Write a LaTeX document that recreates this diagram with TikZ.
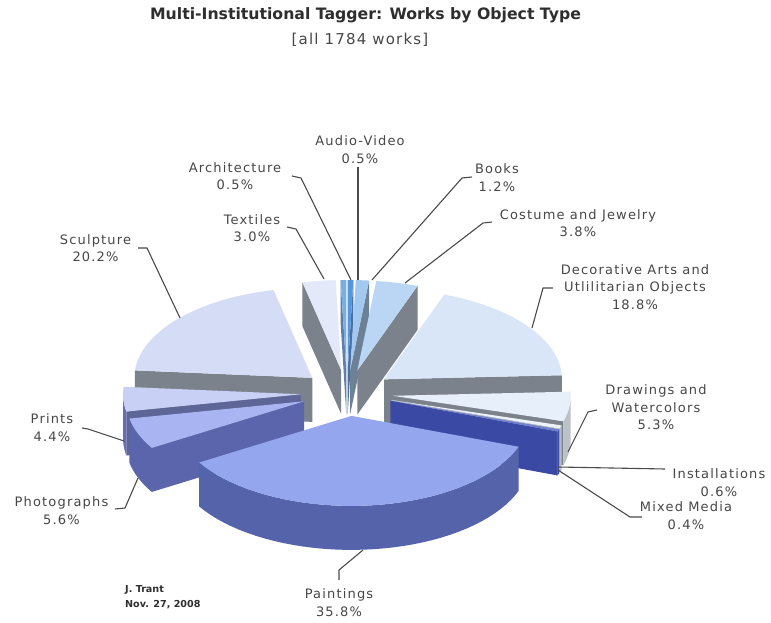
\documentclass[tikz,border=0pt]{standalone}
\usepackage{fontspec}
\setmainfont{DejaVu Sans}
\newfontfamily\labfont[LetterSpace=9]{DejaVu Sans}
\newfontfamily\subfont[LetterSpace=8]{DejaVu Sans}
\definecolor{txt}{HTML}{474747}
\definecolor{ttl}{HTML}{2E2E2E}
\definecolor{lead}{HTML}{4A4A4A}
\definecolor{cut}{HTML}{7C828B}
\definecolor{avTop}{HTML}{5497DC}
\definecolor{avCut}{HTML}{4C6F9E}
\definecolor{arTop}{HTML}{78AEE6}
\definecolor{arCut}{HTML}{5F7FA8}
\definecolor{bkTop}{HTML}{A3C9F0}
\definecolor{bkCut}{HTML}{6C8196}
\definecolor{csTop}{HTML}{BAD6F4}
\definecolor{deTop}{HTML}{D8E6F8}
\definecolor{dwTop}{HTML}{E7EFFA}
\definecolor{dwWall}{HTML}{BCC1C7}
\definecolor{inTop}{HTML}{EEF2FA}
\definecolor{inCut}{HTML}{B5BAC4}
\definecolor{mmTop}{HTML}{7080CC}
\definecolor{mmCut}{HTML}{3A49A3}
\definecolor{paTop}{HTML}{94A6EE}
\definecolor{paWall}{HTML}{5563AA}
\definecolor{phTop}{HTML}{A8B5F2}
\definecolor{phWall}{HTML}{5A65AB}
\definecolor{prTop}{HTML}{C8D0F5}
\definecolor{prCut}{HTML}{5E6597}
\definecolor{prWall}{HTML}{646EB4}
\definecolor{scTop}{HTML}{D5DCF6}
\definecolor{txTop}{HTML}{E3E9F8}
\newcommand\setapex[2]{%
  \pgfmathsetmacro\mm{(#1+#2)/2}%
  \pgfmathsetmacro\ax{347+46*sin(\mm)}%
  \pgfmathsetmacro\ay{393-23*cos(\mm)}%
}
\newcommand\topface[3]{%
  \fill[#3] (\ax,\ay) -- plot[domain=#1:#2,samples=40,variable=\t] ({\ax+178*sin(\t)},{\ay-90*cos(\t)}) -- cycle;}
\newcommand\cutface[2]{%
  \fill[#2] (\ax,\ay) -- ({\ax+178*sin(#1)},{\ay-90*cos(#1)}) -- ({\ax+178*sin(#1)},{\ay-90*cos(#1)+44}) -- (\ax,{\ay+44}) -- cycle;}
\newcommand\wallface[3]{%
  \fill[#3] plot[domain=#1:#2,samples=40,variable=\t] ({\ax+178*sin(\t)},{\ay-90*cos(\t)}) -- plot[domain=#2:#1,samples=40,variable=\t] ({\ax+178*sin(\t)},{\ay-90*cos(\t)+44}) -- cycle;}
\begin{document}
\begin{tikzpicture}[x=1pt,y=-1pt,
  lab/.style={font=\labfont\fontsize{13}{17.5}\selectfont, text=txt, align=center, inner sep=0pt},
  leader/.style={draw=lead, line width=1.1pt}]
\useasboundingbox[fill=white] (0,0) rectangle (771,623);
% title
\node[font=\bfseries\fontsize{15.7}{18}\selectfont, text=ttl, inner sep=0pt] (title) at (365.5,15.5) {Multi-Institutional Tagger: Works by Object Type};
\node[font=\subfont\fontsize{15}{18}\selectfont, text=txt, inner sep=0pt] (subtitle) at (360,39.5) {[all 1784 works]};
% ---- slices (back to front) ----
% Audio-Video
\setapex{0}{1.80}\cutface{1.80}{avCut}\topface{0}{1.80}{avTop}
% Architecture
\setapex{358.20}{360}\cutface{358.20}{arCut}\topface{358.20}{360}{arTop}
% Books
\setapex{1.80}{6.11}\cutface{6.11}{bkCut}\topface{1.80}{6.11}{bkTop}
% Textiles
\setapex{347.41}{358.20}\cutface{347.41}{cut}\topface{347.41}{358.20}{txTop}
% Costume
\setapex{6.11}{19.78}\cutface{19.78}{cut}\topface{6.11}{19.78}{csTop}
% Sculpture
\setapex{274.77}{347.41}\cutface{274.77}{cut}\topface{274.77}{347.41}{scTop}
% Decorative
\setapex{19.78}{87.39}\cutface{87.39}{cut}\topface{19.78}{87.39}{deTop}
% Prints
\setapex{258.94}{274.77}\cutface{258.94}{prCut}\wallface{258.94}{270}{prWall}\topface{258.94}{274.77}{prTop}
% Drawings
\setapex{87.39}{106.45}\cutface{106.45}{cut}\wallface{90}{106.45}{dwWall}\topface{87.39}{106.45}{dwTop}
% Installations
\setapex{106.45}{108.61}\cutface{108.61}{inCut}\wallface{106.45}{108.61}{inCut}\topface{106.45}{108.61}{inTop}
% Mixed Media
\setapex{108.61}{110.05}\cutface{110.05}{mmCut}\wallface{108.61}{110.05}{mmCut}\topface{108.61}{110.05}{mmTop}
% Photographs
\setapex{238.80}{258.94}\cutface{238.80}{phWall}\wallface{238.80}{258.94}{phWall}\topface{238.80}{258.94}{phTop}
% Paintings
\setapex{110.05}{238.80}\wallface{110.05}{238.80}{paWall}\topface{110.05}{238.80}{paTop}
% ---- labels ----
\node[lab] (lAV) at (360,149.5) {Audio-Video\\0.5\%};
\node[lab] (lAR) at (235,176) {Architecture\\0.5\%};
\node[lab] (lTX) at (252,228) {Textiles\\3.0\%};
\node[lab] (lSC) at (95.5,248) {Sculpture\\20.2\%};
\node[lab] (lBK) at (497,177.5) {Books\\1.2\%};
\node[lab] (lCS) at (578,223) {Costume and Jewelry\\3.8\%};
\node[lab] (lDE) at (635,287) {Decorative Arts and\\Utlilitarian Objects\\18.8\%};
\node[lab] (lDW) at (656,407.5) {Drawings and\\Watercolors\\5.3\%};
\node[lab] (lIN) at (719,482.5) {Installations\\0.6\%};
\node[lab] (lMM) at (686,515.5) {Mixed Media\\0.4\%};
\node[lab] (lPR) at (52,427.5) {Prints\\4.4\%};
\node[lab] (lPH) at (61.5,510.5) {Photographs\\5.6\%};
\node[lab] (lPA) at (339,602.5) {Paintings\\35.8\%};
\node[font=\bfseries\fontsize{9.6}{15}\selectfont, text=ttl, align=left, anchor=north west, inner sep=0pt] (sig) at (125,585) {J. Trant\\Nov. 27, 2008};
% ---- leader coordinates ----
\coordinate (avA) at (358,167);   \coordinate (avE) at (358,280);
\coordinate (arA) at (292,176);   \coordinate (arB) at (301,178);  \coordinate (arE) at (351,280);
\coordinate (txA) at (287,227);   \coordinate (txB) at (296,229);  \coordinate (txE) at (324,279);
\coordinate (scA) at (138,248);   \coordinate (scB) at (147,248);  \coordinate (scE) at (180,318);
\coordinate (bkA) at (472,177);   \coordinate (bkB) at (462,178);  \coordinate (bkE) at (372,280);
\coordinate (csA) at (492,222);   \coordinate (csB) at (483,223);  \coordinate (csE) at (405,283);
\coordinate (deA) at (553,288);   \coordinate (deB) at (543,288);  \coordinate (deE) at (532,328);
\coordinate (dwA) at (597,410);   \coordinate (dwB) at (588,412);  \coordinate (dwE) at (568,452);
\coordinate (inA) at (665,469);   \coordinate (inE) at (558,467);
\coordinate (mmA) at (642,517);   \coordinate (mmB) at (630,517);  \coordinate (mmE) at (558,470);
\coordinate (prA) at (82,428);    \coordinate (prB) at (88,429);   \coordinate (prE) at (124,441);
\coordinate (phA) at (115,509);   \coordinate (phB) at (125,508);  \coordinate (phE) at (138,478);
\coordinate (paA) at (339,580);   \coordinate (paB) at (339,570);  \coordinate (paE) at (363,550);
% ---- leaders ----
\draw[leader] (avA) -- (avE);
\draw[leader] (arA) -- (arB) -- (arE);
\draw[leader] (txA) -- (txB) -- (txE);
\draw[leader] (scA) -- (scB) -- (scE);
\draw[leader] (bkA) -- (bkB) -- (bkE);
\draw[leader] (csA) -- (csB) -- (csE);
\draw[leader] (deA) -- (deB) -- (deE);
\draw[leader] (dwA) -- (dwB) -- (dwE);
\draw[leader] (inA) -- (inE);
\draw[leader] (mmA) -- (mmB) -- (mmE);
\draw[leader] (prA) -- (prB) -- (prE);
\draw[leader] (phA) -- (phB) -- (phE);
\draw[leader] (paA) -- (paB) -- (paE);
\end{tikzpicture}
\end{document}
